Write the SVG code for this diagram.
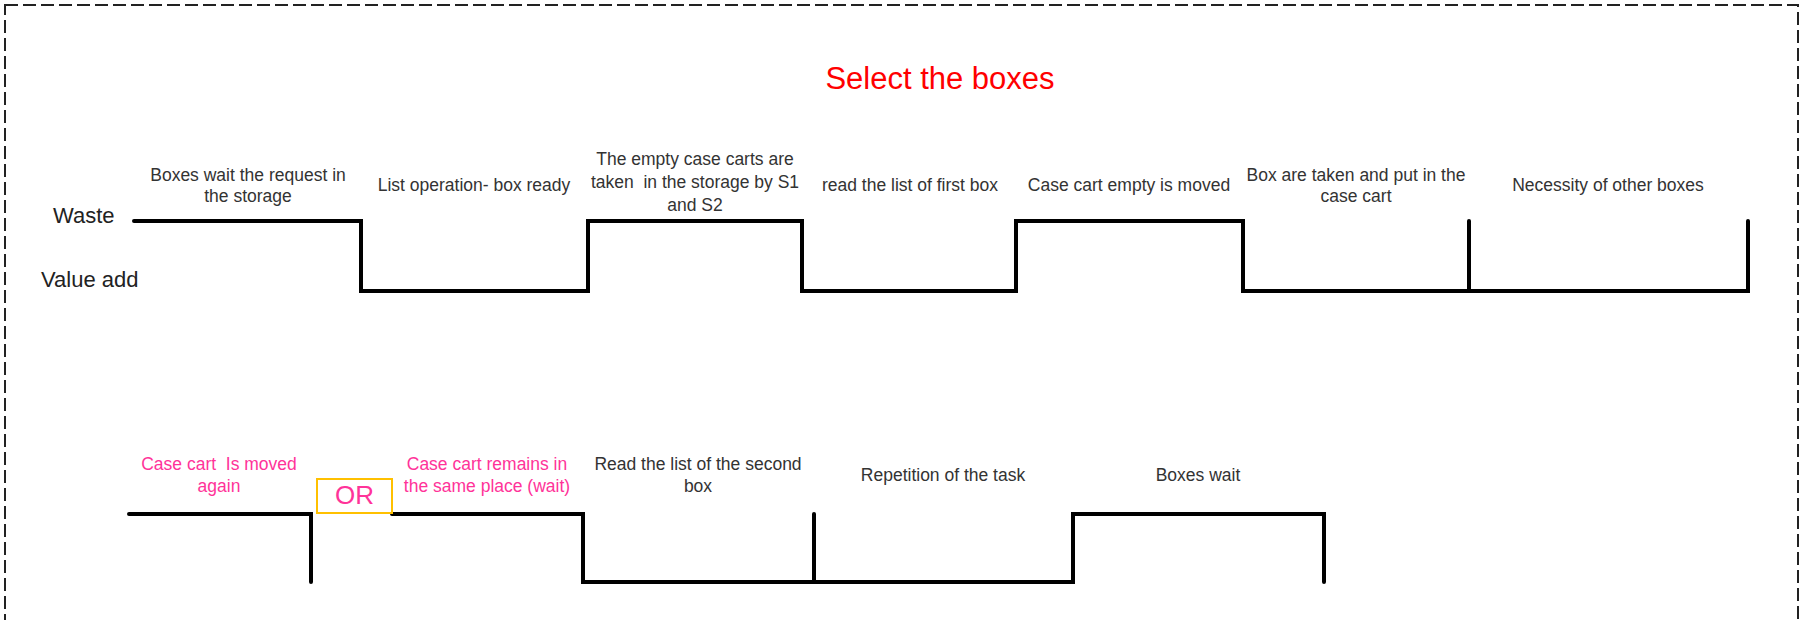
<svg xmlns="http://www.w3.org/2000/svg" width="1800" height="620" viewBox="0 0 1800 620">
<style>
.lbl{font-family:"Liberation Sans",Arial,sans-serif;font-size:17.5px;fill:#333333;text-anchor:middle}
.pink{fill:#FF3399}
.axis{font-family:"Liberation Sans",Arial,sans-serif;font-size:22px;fill:#222222}
.title{font-family:"Liberation Sans",Arial,sans-serif;font-size:31px;fill:#FF0000;text-anchor:middle}
.wave{fill:none;stroke:#000000;stroke-width:4;stroke-linecap:round;stroke-linejoin:miter}
</style>
<rect x="0" y="0" width="1800" height="620" fill="#ffffff"/>
<rect id="frame" x="5" y="5" width="1793" height="660" fill="none" stroke="#222222" stroke-width="2" stroke-dasharray="13 5"/>
<g id="title"><text class="title" x="940" y="89">Select the boxes</text></g>
<g id="axis-labels">
<text class="axis" x="53" y="222.5">Waste</text>
<text class="axis" x="41" y="287">Value add</text>
</g>
<g id="connectors">
<path class="wave" d="M134 221 H361 V291 H588 V221 H802 V291 H1016 V221 H1243 V291 H1748 V221"/>
<path class="wave" d="M1469 221 V291"/>
<path class="wave" d="M129 514 H311 V582"/>
<path class="wave" d="M392 514 H583 V582 H1073 V514 H1324 V582"/>
<path class="wave" d="M814 514 V582"/>
</g>
<g id="step1"><text class="lbl" x="248" y="181">Boxes wait the request in</text><text class="lbl" x="248" y="202">the storage</text></g>
<g id="step2"><text class="lbl" x="474" y="191">List operation- box ready</text></g>
<g id="step3"><text class="lbl" x="695" y="165">The empty case carts are</text><text class="lbl" x="695" y="188" xml:space="preserve">taken  in the storage by S1</text><text class="lbl" x="695" y="211">and S2</text></g>
<g id="step4"><text class="lbl" x="910" y="191">read the list of first box</text></g>
<g id="step5"><text class="lbl" x="1129" y="191">Case cart empty is moved</text></g>
<g id="step6"><text class="lbl" x="1356" y="181">Box are taken and put in the</text><text class="lbl" x="1356" y="202">case cart</text></g>
<g id="step7"><text class="lbl" x="1608" y="191">Necessity of other boxes</text></g>
<g id="step8"><text class="lbl pink" x="219" y="470" xml:space="preserve">Case cart  Is moved</text><text class="lbl pink" x="219" y="492">again</text></g>
<g id="or-box"><rect x="317" y="479" width="75" height="34" fill="none" stroke="#FFC000" stroke-width="2"/><text class="lbl pink" x="354.5" y="504" style="font-size:26px">OR</text></g>
<g id="step9"><text class="lbl pink" x="487" y="470">Case cart remains in</text><text class="lbl pink" x="487" y="492">the same place (wait)</text></g>
<g id="step10"><text class="lbl" x="698" y="470">Read the list of the second</text><text class="lbl" x="698" y="492">box</text></g>
<g id="step11"><text class="lbl" x="943" y="481">Repetition of the task</text></g>
<g id="step12"><text class="lbl" x="1198" y="481">Boxes wait</text></g>
</svg>
